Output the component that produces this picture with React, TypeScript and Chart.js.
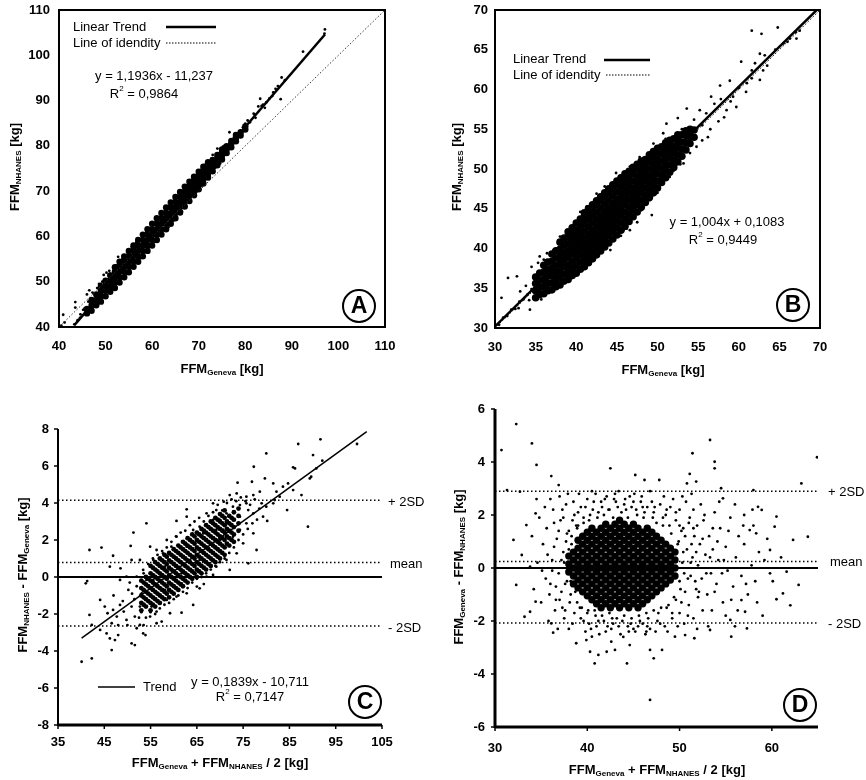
import React, { useEffect, useRef } from "react";
import { Chart, registerables } from "chart.js";

Chart.register(...registerables);

type Pt = [number, number];
type Col = [number, number[]];

// ---------------- Panel A : FFM NHANES vs FFM Geneva ----------------
const aXTicks = [40, 50, 60, 70, 80, 90, 100, 110];
const aYTicks = [40, 50, 60, 70, 80, 90, 100, 110];
const aTrendX = [43.3, 97.1];
const aTrendY = [40.4, 104.6];
const aIdentityX = [40, 110];
const aIdentityY = [40, 110];
const aCore: Col[] = [
  [46, [43.0, 44.0]], [47, [43.6, 44.8, 46.0]], [48, [44.8, 46.0, 47.2]], [49, [45.6, 46.8, 48.0, 49.0]],
  [50, [46.8, 48.0, 49.2, 50.2]], [51, [47.8, 49.0, 50.2, 51.4]], [52, [48.6, 49.8, 51.0, 52.2, 53.2]],
  [53, [49.8, 51.0, 52.2, 53.4, 54.4]], [54, [51.0, 52.2, 53.4, 54.6, 55.6]], [55, [52.1, 53.3, 54.5, 55.7, 56.8]],
  [56, [53.3, 54.5, 55.7, 56.9, 58.0]], [57, [54.4, 55.6, 56.8, 58.0, 59.2]], [58, [55.6, 56.8, 58.0, 59.2, 60.4]],
  [59, [56.8, 58.0, 59.2, 60.4, 61.6]], [60, [58.0, 59.2, 60.4, 61.6, 62.8]], [61, [59.2, 60.4, 61.6, 62.8, 64.0]],
  [62, [60.4, 61.6, 62.8, 64.0, 65.2]], [63, [61.6, 62.8, 64.0, 65.2, 66.4]], [64, [62.8, 64.0, 65.2, 66.4, 67.5]],
  [65, [64.0, 65.2, 66.4, 67.6, 68.7]], [66, [65.3, 66.5, 67.6, 68.8, 69.8]], [67, [66.6, 67.7, 68.8, 69.9, 71.0]],
  [68, [67.8, 68.9, 70.0, 71.1, 72.1]], [69, [69.1, 70.1, 71.2, 72.3, 73.2]], [70, [70.4, 71.4, 72.4, 73.4, 74.3]],
  [71, [71.7, 72.6, 73.6, 74.6, 75.4]], [72, [73.0, 73.9, 74.8, 75.7, 76.4]], [73, [74.4, 75.3, 76.1, 76.9]],
  [74, [75.7, 76.5, 77.3, 78.0]], [75, [77.0, 77.8, 78.6, 79.2]], [76, [78.4, 79.2, 79.9]],
  [77, [79.7, 80.5, 81.1]], [78, [81.0, 81.8, 82.4]], [79, [82.3, 83.0]], [80, [83.6, 84.3]],
];
const aScatter: Pt[] = [
  [40.5, 40.3], [40.9, 42.7], [41.2, 41.0], [43.3, 40.6], [43.5, 45.5], [43.5, 44.3], [44.0, 41.5],
  [44.5, 42.0], [44.6, 42.8], [45.2, 43.8], [45.5, 44.1], [46.0, 47.2], [46.3, 45.6], [46.5, 48.1],
  [46.8, 45.5], [47.2, 47.6], [47.5, 46.0], [48.0, 45.2], [48.2, 48.6], [48.6, 49.5], [48.9, 46.2],
  [49.0, 49.5], [49.3, 50.0], [49.6, 51.5], [49.8, 47.8], [50.2, 52.0], [50.5, 50.2], [50.8, 52.4],
  [51.0, 51.8], [51.5, 48.8], [51.8, 52.9], [52.2, 53.6], [52.7, 55.5], [53.1, 50.3], [53.6, 55.0],
  [54.0, 55.8], [54.5, 51.8], [54.8, 56.7], [55.2, 52.5], [55.6, 57.7], [56.0, 53.8], [56.6, 58.7],
  [57.0, 58.5], [57.5, 55.2], [58.0, 56.3], [58.3, 60.2], [58.8, 61.1], [59.2, 57.2], [59.8, 61.9],
  [60.0, 62.5], [60.6, 58.8], [61.2, 59.9], [61.5, 64.0], [62.0, 60.6], [62.8, 65.6], [63.2, 66.2],
  [63.5, 62.0], [64.2, 67.3], [64.6, 63.5], [65.0, 64.1], [66.0, 69.6], [66.4, 65.5], [66.8, 70.1],
  [67.2, 70.8], [67.8, 68.0], [68.0, 67.8], [68.5, 72.5], [69.3, 69.5], [69.8, 73.7], [70.0, 74.2],
  [70.6, 71.2], [71.0, 71.8], [71.5, 75.9], [72.3, 73.5], [72.8, 77.2], [73.0, 78.0], [73.6, 75.2],
  [74.0, 79.4], [74.6, 76.1], [75.2, 79.8], [75.5, 80.0], [76.0, 78.2], [76.6, 83.0], [77.0, 80.0],
  [77.6, 81.9], [78.0, 82.7], [78.5, 82.6], [79.0, 82.0], [79.5, 84.1], [80.0, 84.9], [80.5, 85.6],
  [81.0, 85.2], [81.8, 87.1], [82.0, 86.9], [82.2, 86.2], [82.8, 88.7], [83.2, 90.4], [83.5, 88.8],
  [83.8, 89.1], [84.2, 88.4], [84.5, 89.6], [85.2, 90.5], [85.8, 91.0], [86.0, 91.8], [86.5, 92.6],
  [87.0, 93.2], [87.6, 90.3], [87.8, 95.1], [88.5, 94.5], [92.4, 100.8], [97.1, 105.7], [97.0, 104.8],
];

// ---------------- Panel B : FFM NHANES vs FFM Geneva ----------------
const bXTicks = [30, 35, 40, 45, 50, 55, 60, 65, 70];
const bYTicks = [30, 35, 40, 45, 50, 55, 60, 65, 70];
const bTrendX = [30, 70];
const bTrendY = [30.2, 70.4];
const bIdentityX = [30, 70];
const bIdentityY = [30, 70];
const bCore: Col[] = [
  [35, [33.8, 34.7, 35.6, 36.4]], [35.5, [34.2, 35.1, 36.0, 36.9]],
  [36, [34.3, 35.2, 36.1, 37.0, 37.9]], [36.5, [34.7, 35.6, 36.5, 37.4, 38.3]],
  [37, [34.8, 35.7, 36.6, 37.5, 38.4, 39.3]], [37.5, [35.2, 36.1, 37.0, 37.9, 38.8, 39.7]],
  [38, [35.4, 36.3, 37.2, 38.1, 39.0, 39.9, 40.8]], [38.5, [35.9, 36.8, 37.7, 38.6, 39.5, 40.4, 41.3]],
  [39, [36.1, 37.0, 37.9, 38.8, 39.7, 40.6, 41.5, 42.1]], [39.5, [36.6, 37.5, 38.4, 39.3, 40.2, 41.1, 42.0, 42.6]],
  [40, [36.9, 37.8, 38.7, 39.6, 40.5, 41.4, 42.3, 43.2]], [40.5, [37.4, 38.3, 39.2, 40.1, 41.0, 41.9, 42.8, 43.7]],
  [41, [37.7, 38.6, 39.5, 40.4, 41.3, 42.2, 43.1, 44.0, 44.5]], [41.5, [38.2, 39.1, 40.0, 40.9, 41.8, 42.7, 43.6, 44.5, 45.0]],
  [42, [38.7, 39.6, 40.5, 41.4, 42.3, 43.2, 44.1, 45.0, 45.5]], [42.5, [39.2, 40.1, 41.0, 41.9, 42.8, 43.7, 44.6, 45.5, 46.0]],
  [43, [39.7, 40.6, 41.5, 42.4, 43.3, 44.2, 45.1, 46.0, 46.5]], [43.5, [40.2, 41.1, 42.0, 42.9, 43.8, 44.7, 45.6, 46.5, 47.0]],
  [44, [40.7, 41.6, 42.5, 43.4, 44.3, 45.2, 46.1, 47.0, 47.5]], [44.5, [41.2, 42.1, 43.0, 43.9, 44.8, 45.7, 46.6, 47.5, 48.0]],
  [45, [41.7, 42.6, 43.5, 44.4, 45.3, 46.2, 47.1, 48.0, 48.5]], [45.5, [42.3, 43.2, 44.1, 45.0, 45.9, 46.8, 47.7, 48.6, 48.9]],
  [46, [42.8, 43.7, 44.6, 45.5, 46.4, 47.3, 48.2, 49.1, 49.4]], [46.5, [43.4, 44.3, 45.2, 46.1, 47.0, 47.9, 48.8, 49.7]],
  [47, [44.0, 44.9, 45.8, 46.7, 47.6, 48.5, 49.4, 50.2]], [47.5, [44.6, 45.5, 46.4, 47.3, 48.2, 49.1, 50.0, 50.6]],
  [48, [45.2, 46.1, 47.0, 47.9, 48.8, 49.7, 50.6, 51.0]], [48.5, [45.8, 46.7, 47.6, 48.5, 49.4, 50.3, 51.2]],
  [49, [46.4, 47.3, 48.2, 49.1, 50.0, 50.9, 51.8]], [49.5, [47.0, 47.9, 48.8, 49.7, 50.6, 51.5, 52.2]],
  [50, [47.6, 48.5, 49.4, 50.3, 51.2, 52.1, 52.6]], [50.5, [48.3, 49.2, 50.1, 51.0, 51.9, 52.8]],
  [51, [48.9, 49.8, 50.7, 51.6, 52.5, 53.3]], [51.5, [49.6, 50.5, 51.4, 52.3, 53.2, 53.6]],
  [52, [50.2, 51.1, 52.0, 52.9, 53.8]], [52.5, [50.9, 51.8, 52.7, 53.6, 54.3]],
  [53, [51.6, 52.5, 53.4, 54.3]], [53.5, [52.4, 53.3, 54.2, 54.8]], [54, [53.2, 54.1, 55.0]], [54.5, [54.0, 54.9]],
];
const bScatter: Pt[] = [
  [30.5, 30.4], [30.8, 33.8], [31.0, 31.3], [31.5, 31.5], [31.6, 36.3], [32.0, 32.3], [32.5, 32.4],
  [32.7, 36.5], [32.9, 32.5], [33.0, 33.3], [33.1, 34.6], [33.5, 33.6], [33.8, 35.3], [34.0, 34.2],
  [34.2, 33.5], [34.3, 32.3], [34.5, 34.9], [34.5, 37.7], [35.1, 36.5], [35.3, 38.2], [35.5, 39.0],
  [35.7, 33.6], [36.0, 38.6], [36.4, 39.4], [36.8, 34.8], [37.2, 39.8], [37.6, 40.0], [38.0, 41.5],
  [38.5, 36.0], [38.8, 41.9], [39.0, 42.0], [39.5, 36.3], [40.0, 42.3], [40.2, 37.2], [40.5, 44.6],
  [41.0, 44.5], [41.3, 38.0], [41.3, 45.3], [42.0, 38.7], [42.5, 46.9], [42.8, 46.0], [43.3, 40.0],
  [43.3, 46.9], [43.5, 47.8], [44.0, 40.5], [44.2, 39.8], [44.9, 41.6], [44.9, 49.5], [45.2, 48.5],
  [45.5, 41.6], [45.8, 42.3], [46.2, 42.5], [46.6, 42.3], [46.6, 50.3], [47.0, 44.1], [47.3, 50.2],
  [47.5, 43.3], [47.8, 51.5], [48.0, 44.8], [48.2, 45.4], [48.8, 51.6], [49.1, 46.1], [49.3, 44.2],
  [49.5, 53.2], [49.9, 47.4], [50.0, 47.0], [50.3, 48.4], [50.7, 52.8], [50.7, 54.5], [51.0, 53.8],
  [51.1, 55.7], [51.5, 49.0], [51.5, 53.6], [52.0, 49.8], [52.3, 51.5], [52.5, 56.4], [52.8, 50.6],
  [53.0, 55.0], [53.2, 50.7], [53.6, 57.6], [53.6, 54.5], [54.0, 52.0], [54.0, 53.4], [54.5, 56.2],
  [54.8, 52.8], [55.2, 57.4], [55.5, 53.6], [55.5, 55.5], [56.0, 57.0], [56.2, 54.0], [56.5, 55.0],
  [56.6, 59.1], [57.0, 58.2], [57.5, 56.0], [57.7, 60.5], [57.8, 58.8], [58.2, 56.5], [58.5, 57.4],
  [58.9, 61.1], [59.0, 58.5], [59.3, 59.1], [59.7, 57.8], [60.0, 60.2], [60.3, 63.5], [60.9, 59.7],
  [61.0, 60.8], [61.6, 62.4], [61.6, 61.4], [61.6, 67.4], [62.0, 63.3], [62.6, 61.2], [62.6, 64.5],
  [62.8, 67.0], [63.0, 62.4], [63.2, 64.3], [63.5, 63.0], [64.5, 65.0], [64.8, 67.8], [65.5, 65.8],
  [66.0, 66.0], [66.3, 66.4], [67.0, 67.2], [67.1, 66.4], [67.5, 67.4],
];

// ---------------- Panel C : difference vs mean ----------------
const cXTicks = [35, 45, 55, 65, 75, 85, 95, 105];
const cYTicks = [-8, -6, -4, -2, 0, 2, 4, 6, 8];
const cTrendX = [40.1, 101.7];
const cTrendY = [-3.3, 7.86];
const cRangeX = [35, 105];
const cZero = 0;
const cPlus2SD = 4.15;
const cMean = 0.78;
const cMinus2SD = -2.65;
const cCore: Col[] = [
  [53, [-1.8, -1.4, -1.0, -0.6, -0.2]], [53.5, [-1.5, -1.1, -0.7, -0.3]],
  [54, [-1.6, -1.2, -0.8, -0.4, 0.0]], [54.5, [-1.3, -0.9, -0.5, -0.1]],
  [55, [-1.8, -1.4, -1.0, -0.6, -0.2, 0.2, 0.6]], [55.5, [-1.5, -1.1, -0.7, -0.3, 0.1, 0.5]],
  [56, [-1.6, -1.2, -0.8, -0.4, 0.0, 0.4, 0.8]], [56.5, [-1.3, -0.9, -0.5, -0.1, 0.3, 0.7]],
  [57, [-1.4, -1.0, -0.6, -0.2, 0.2, 0.6, 1.0]], [57.5, [-1.1, -0.7, -0.3, 0.1, 0.5, 0.9]],
  [58, [-1.2, -0.8, -0.4, 0.0, 0.4, 0.8, 1.2]], [58.5, [-0.9, -0.5, -0.1, 0.3, 0.7, 1.1]],
  [59, [-1.1, -0.7, -0.3, 0.1, 0.5, 0.9, 1.3]], [59.5, [-0.8, -0.4, 0.0, 0.4, 0.8, 1.2]],
  [60, [-0.9, -0.5, -0.1, 0.3, 0.7, 1.1, 1.5]], [60.5, [-0.6, -0.2, 0.2, 0.6, 1.0, 1.4]],
  [61, [-0.7, -0.3, 0.1, 0.5, 0.9, 1.3, 1.7]], [61.5, [-0.4, 0.0, 0.4, 0.8, 1.2, 1.6]],
  [62, [-0.5, -0.1, 0.3, 0.7, 1.1, 1.5, 1.9]], [62.5, [-0.2, 0.2, 0.6, 1.0, 1.4, 1.8]],
  [63, [-0.3, 0.1, 0.5, 0.9, 1.3, 1.7, 2.1]], [63.5, [0.0, 0.4, 0.8, 1.2, 1.6, 2.0]],
  [64, [-0.1, 0.3, 0.7, 1.1, 1.5, 1.9, 2.3]], [64.5, [0.2, 0.6, 1.0, 1.4, 1.8, 2.2]],
  [65, [0.0, 0.4, 0.8, 1.2, 1.6, 2.0, 2.4]], [65.5, [0.3, 0.7, 1.1, 1.5, 1.9, 2.3]],
  [66, [0.2, 0.6, 1.0, 1.4, 1.8, 2.2, 2.6]], [66.5, [0.5, 0.9, 1.3, 1.7, 2.1, 2.5]],
  [67, [0.4, 0.8, 1.2, 1.6, 2.0, 2.4, 2.8]], [67.5, [0.7, 1.1, 1.5, 1.9, 2.3, 2.7]],
  [68, [0.6, 1.0, 1.4, 1.8, 2.2, 2.6, 3.0]], [68.5, [0.9, 1.3, 1.7, 2.1, 2.5, 2.9]],
  [69, [0.8, 1.2, 1.6, 2.0, 2.4, 2.8, 3.2]], [69.5, [1.1, 1.5, 1.9, 2.3, 2.7, 3.1]],
  [70, [1.0, 1.4, 1.8, 2.2, 2.6, 3.0, 3.4]], [70.5, [1.3, 1.7, 2.1, 2.5, 2.9, 3.3]],
  [71, [1.2, 1.6, 2.0, 2.4, 2.8, 3.2, 3.6]], [71.5, [1.8, 2.2, 2.6, 3.0]],
  [72, [1.7, 2.1, 2.5, 2.9, 3.3]], [72.5, [2.0, 2.4, 2.8, 3.2]],
  [73, [1.9, 2.3, 2.7, 3.1, 3.5]], [74, [2.5, 2.9, 3.3, 3.7]],
];
const cScatter: Pt[] = [
  [99.6, 7.19], [91.7, 7.44], [86.9, 7.19], [80.0, 6.68], [90.1, 6.59], [77.3, 5.96], [92.1, 6.29],
  [90.8, 5.87], [73.8, 5.10], [76.9, 5.15], [79.7, 5.33], [81.5, 5.06], [85.8, 5.93], [86.2, 5.87],
  [84.7, 5.06], [87.6, 4.43], [85.8, 4.70], [84.5, 3.62], [89.0, 2.72], [83.6, 4.88], [82.2, 4.61],
  [89.4, 5.33], [89.7, 5.42], [62.8, 3.66], [60.6, 3.03], [54.1, 2.90], [51.3, 2.40], [50.7, 1.68],
  [41.8, 1.46], [44.4, 1.59], [46.9, 1.15], [46.2, 0.56], [50.9, 0.92], [48.5, 0.47], [41.0, -0.34],
  [41.3, -0.22], [41.8, -2.05], [42.3, -2.59], [40.1, -4.58], [42.3, -4.40], [46.6, -3.95],
  [46.2, -3.32], [47.3, -3.41], [48.0, -3.14], [45.5, -3.05], [50.9, -3.59], [51.6, -3.68],
  [53.4, -3.05], [52.7, -2.59], [53.9, -3.14], [44.1, -1.24], [45.1, -1.60], [45.7, -1.96],
  [46.9, -1.78], [47.7, -2.14], [48.4, -1.51], [49.2, -1.87], [49.8, -2.32], [46.6, -2.50],
  [50.9, -1.60], [51.6, -2.14], [52.0, -2.77], [56.3, -1.87], [57.4, -2.41], [59.2, -1.96],
  [61.7, -1.93], [64.2, -1.51], [65.6, -0.61], [66.5, -0.38], [68.5, 0.11], [72.1, 0.38],
  [76.1, 0.74], [77.9, 1.46], [77.2, 2.36], [75.7, 2.90], [74.3, 3.26], [72.8, 3.80], [72.1, 4.43],
  [73.6, 4.52], [75.7, 4.34], [77.2, 4.43], [78.6, 4.61], [79.0, 3.98], [79.3, 3.26], [76.1, 3.62],
  [70.7, 2.54], [69.2, 3.62], [68.5, 3.08], [67.1, 3.44], [65.6, 2.72], [62.8, 3.26], [64.2, 2.54],
  [60.6, 2.18], [58.5, 2.00], [56.3, 1.46], [55.6, 0.92], [57.7, 1.28], [59.5, 1.64], [54.9, 1.64],
  [52.7, 0.92], [53.4, 0.38], [52.0, 0.02], [54.1, -0.16], [49.8, 0.02], [48.4, -0.16], [50.2, -0.70],
  [53.1, -0.88], [54.1, -1.24], [55.2, -1.60], [52.7, -1.60], [54.9, -2.14], [56.3, -2.50],
  [58.5, -1.24], [60.6, -1.06], [62.8, -0.88], [65.0, -0.52], [67.1, 0.02], [69.2, 0.56],
  [71.4, 0.92], [73.6, 1.28], [75.0, 1.82], [72.8, 2.18], [74.3, 2.54], [71.4, 2.90], [70.0, 2.00],
  [75.7, 3.98], [77.2, 3.44], [80.0, 3.80], [81.5, 3.98], [82.9, 4.34], [80.2, 3.03], [81.8, 4.16],
  [63.8, 0.38], [65.6, 0.92], [61.7, 0.20], [59.9, 0.74], [58.1, 0.56], [57.4, 0.02], [56.3, -0.52],
  [58.1, -0.70], [59.9, -0.52], [61.7, -0.34], [56.3, 0.38], [55.6, -0.16], [54.5, -0.52],
  [60.6, 1.37], [62.8, 1.64], [65.0, 2.00], [66.4, 2.36], [67.8, 1.82], [66.4, 1.28], [69.2, 2.54],
  [71.4, 3.44], [72.8, 3.08], [70.0, 3.08], [68.5, 3.98], [70.8, 4.07], [74.3, 3.89], [44.1, -2.86],
  [53.0, -1.9], [53.5, 0.2], [54.0, -2.2], [54.5, 0.7], [55.0, -1.9], [55.5, 1.0], [56.0, -2.0],
  [56.5, 1.2], [57.0, -1.7], [57.5, 1.4], [58.0, -1.5], [58.5, 1.6], [59.0, -1.4], [59.5, 1.9],
  [60.0, -1.2], [60.5, 2.2], [61.0, -1.0], [61.5, 2.4], [62.0, -0.8], [62.5, 2.5], [63.0, -0.6],
  [63.5, 2.8], [64.0, -0.3], [64.5, 3.0], [65.0, -0.1], [65.5, 3.2], [66.0, 0.0], [66.5, 3.0],
  [67.0, 0.2], [67.5, 3.3], [68.0, 0.4], [68.5, 3.5], [69.0, 0.6], [69.5, 3.9], [70.0, 0.8],
  [70.5, 3.6], [71.0, 1.0], [71.5, 4.0], [72.0, 1.3], [72.5, 4.2], [73.0, 1.6], [73.5, 4.1],
  [74.0, 2.0], [74.5, 4.3], [75.0, 2.3], [75.5, 4.1], [76.0, 2.6], [76.5, 3.9], [77.0, 2.9],
  [77.5, 4.2], [78.0, 3.1], [78.5, 3.7], [47.0, -1.0], [48.0, -2.6], [49.0, -1.3], [50.0, -2.6],
  [51.0, -0.9], [51.5, -1.2], [52.5, -2.2], [53.5, -2.6], [52.0, -0.5], [50.5, -0.3],
];

// ---------------- Panel D : difference vs mean ----------------
const dXTicks = [30, 40, 50, 60];
const dYTicks = [-6, -4, -2, 0, 2, 4, 6];
const dRangeX = [30, 65];
const dZero = 0;
const dPlus2SD = 2.9;
const dMean = 0.25;
const dMinus2SD = -2.08;
const dCore: Col[] = [
  [38, [-0.15, 0.15, 0.45]],
  [38.5, [-0.6, -0.3, 0.0, 0.3, 0.6]],
  [39, [-0.75, -0.45, -0.15, 0.15, 0.45, 0.75, 1.05]],
  [39.5, [-0.9, -0.6, -0.3, 0.0, 0.3, 0.6, 0.9, 1.2]],
  [40, [-1.05, -0.75, -0.45, -0.15, 0.15, 0.45, 0.75, 1.05, 1.35]],
  [40.5, [-1.2, -0.9, -0.6, -0.3, 0.0, 0.3, 0.6, 0.9, 1.2, 1.5]],
  [41, [-1.35, -1.05, -0.75, -0.45, -0.15, 0.15, 0.45, 0.75, 1.05, 1.35]],
  [41.5, [-1.5, -1.2, -0.9, -0.6, -0.3, 0.0, 0.3, 0.6, 0.9, 1.2, 1.5]],
  [42, [-1.35, -1.05, -0.75, -0.45, -0.15, 0.15, 0.45, 0.75, 1.05, 1.35, 1.65]],
  [42.5, [-1.5, -1.2, -0.9, -0.6, -0.3, 0.0, 0.3, 0.6, 0.9, 1.2, 1.5]],
  [43, [-1.35, -1.05, -0.75, -0.45, -0.15, 0.15, 0.45, 0.75, 1.05, 1.35, 1.65]],
  [43.5, [-1.5, -1.2, -0.9, -0.6, -0.3, 0.0, 0.3, 0.6, 0.9, 1.2, 1.5, 1.8]],
  [44, [-1.35, -1.05, -0.75, -0.45, -0.15, 0.15, 0.45, 0.75, 1.05, 1.35, 1.65]],
  [44.5, [-1.5, -1.2, -0.9, -0.6, -0.3, 0.0, 0.3, 0.6, 0.9, 1.2, 1.5]],
  [45, [-1.35, -1.05, -0.75, -0.45, -0.15, 0.15, 0.45, 0.75, 1.05, 1.35, 1.65]],
  [45.5, [-1.5, -1.2, -0.9, -0.6, -0.3, 0.0, 0.3, 0.6, 0.9, 1.2, 1.5]],
  [46, [-1.35, -1.05, -0.75, -0.45, -0.15, 0.15, 0.45, 0.75, 1.05, 1.35]],
  [46.5, [-1.2, -0.9, -0.6, -0.3, 0.0, 0.3, 0.6, 0.9, 1.2, 1.5]],
  [47, [-1.05, -0.75, -0.45, -0.15, 0.15, 0.45, 0.75, 1.05, 1.35]],
  [47.5, [-0.9, -0.6, -0.3, 0.0, 0.3, 0.6, 0.9, 1.2]],
  [48, [-0.75, -0.45, -0.15, 0.15, 0.45, 0.75, 1.05]],
  [48.5, [-0.6, -0.3, 0.0, 0.3, 0.6, 0.9]],
  [49, [-0.45, -0.15, 0.15, 0.45, 0.75]],
  [49.5, [-0.3, 0.0, 0.3, 0.6]],
];
const dCloud: Pt[] = [
  [34.8, 1.9], [35.2, 0.9], [35.5, -0.4], [35.6, 1.5], [35.9, -1.0], [36.2, 0.3], [36.3, 2.2],
  [36.5, -1.6], [36.7, 1.1], [36.9, -0.2], [37.1, 1.8], [37.2, -0.9], [37.4, 0.6], [37.5, -1.9],
  [37.7, 2.4], [37.8, -0.5], [38.0, 1.4], [38.1, -1.3], [38.3, 0.9], [38.4, -2.1], [38.6, 2.0],
  [38.7, -0.9], [38.8, 1.6], [35.0, -1.3], [36.0, 2.6], [37.0, 2.7], [37.9, 2.8], [36.8, -2.3],
  [35.8, -2.0], [34.6, 0.2], [35.4, 2.3], [34.2, -0.8], [34.0, 1.2],
  [39.0, 1.6], [39.3, 2.3], [39.6, 1.9], [40.0, 2.6], [40.2, 1.8], [40.6, 2.2], [40.9, 2.8],
  [41.1, 1.9], [41.5, 2.5], [41.8, 2.0], [42.1, 2.7], [42.4, 2.2], [42.8, 1.9], [43.1, 2.5],
  [43.4, 2.9], [43.7, 2.1], [44.1, 2.6], [44.4, 1.9], [44.8, 2.3], [45.1, 2.8], [45.4, 2.0],
  [45.8, 2.5], [46.1, 1.9], [46.5, 2.3], [46.8, 2.9], [47.2, 2.1], [47.5, 1.7], [47.9, 2.4],
  [48.2, 1.9], [48.6, 2.2], [48.9, 1.6], [49.3, 2.6], [49.6, 1.8], [50.0, 2.2], [50.4, 1.5],
  [50.7, 2.5], [51.1, 1.9], [51.5, 2.2], [51.9, 1.6], [52.3, 2.4],
  [39.2, -1.5], [39.6, -2.0], [40.0, -1.7], [40.4, -2.3], [40.8, -1.6], [41.2, -2.0], [41.6, -1.8],
  [42.0, -2.4], [42.4, -1.7], [42.8, -2.1], [43.2, -1.9], [43.6, -2.5], [44.0, -1.8], [44.4, -2.2],
  [44.8, -1.9], [45.2, -2.4], [45.6, -1.8], [46.0, -2.1], [46.4, -1.7], [46.8, -2.3], [47.2, -1.6],
  [47.6, -2.0], [48.0, -1.5], [48.4, -2.2], [48.8, -1.4], [49.2, -1.9], [49.6, -1.2], [50.0, -1.7],
  [50.5, -2.1], [51.0, -1.4], [51.5, -1.9], [52.0, -1.1], [52.5, -1.6],
  [49.8, 0.9], [50.0, -0.5], [50.2, 1.4], [50.3, 0.2], [50.6, -0.9], [50.8, 0.7], [51.0, 1.7],
  [51.2, -0.3], [51.4, 0.4], [51.6, 1.2], [51.8, -0.8], [52.0, 0.1], [52.2, 0.9], [52.4, -0.4],
  [52.6, 1.8], [52.8, 0.5], [53.0, -1.0], [53.2, 1.2], [53.4, -0.2], [53.6, 0.7], [53.8, 2.1],
  [54.0, -0.6], [54.2, 0.3], [54.4, 1.5], [54.7, -1.3], [55.0, 0.8], [55.2, -0.1], [55.5, 1.9],
  [55.8, -0.7], [56.1, 0.4], [56.4, 1.2], [56.7, -0.3], [57.0, 0.9], [57.4, -1.0], [57.8, 0.1],
  [58.2, -0.5], [58.6, 0.6], [56.0, 2.4], [55.0, -1.8], [53.5, -1.6], [57.0, 2.0], [58.0, 1.6],
  [37.5, 0.2], [37.6, -0.6], [37.7, 1.0], [38.2, -1.0], [38.3, 1.2], [38.9, -1.3], [38.9, 1.5],
  [39.4, -1.5], [39.6, 1.7], [40.1, -1.6], [40.3, 2.0], [40.9, -1.8], [41.2, 2.1], [41.8, -2.0],
  [42.3, 2.2], [42.7, -1.9], [43.3, 2.3], [43.8, -2.0], [44.2, 2.2], [44.7, -2.1], [45.3, 2.2],
  [45.7, -2.0], [46.2, 2.1], [46.6, -1.9], [47.1, 1.9], [47.7, -1.7], [48.2, 1.6], [48.6, -1.5],
  [49.1, 1.3], [49.4, -1.1], [49.9, 1.0], [50.1, -0.8], [50.4, 0.6], [50.5, -0.2], [51.3, 0.9],
  [51.7, -0.5], [34.5, 2.6], [35.1, -0.1], [35.7, 0.5], [36.0, -0.6], [36.4, 1.7], [36.6, -1.2],
  [37.3, 2.2], [37.3, -1.5], [38.0, -2.3], [38.5, 2.5], [39.1, 2.8], [39.8, -2.4], [40.5, 2.9],
  [41.3, -2.5], [41.9, 2.6], [42.6, -2.3], [43.0, 2.8], [43.9, -2.6], [44.6, 2.7], [45.0, -2.3],
  [45.9, 2.7], [46.3, -2.5], [47.0, 2.5], [47.4, -2.4], [48.3, 2.7], [48.7, -2.4], [49.0, 2.3],
  [49.8, -2.2], [50.3, 2.7], [50.9, -1.8], [51.3, 2.8], [51.9, -2.3], [52.7, 2.0], [53.1, -2.2],
  [53.6, 1.5], [54.3, 2.5], [54.6, -0.2], [55.3, 1.4], [55.6, -1.2], [56.3, -1.6], [56.9, 1.6],
  [57.2, -0.6], [57.9, 2.2], [58.4, -1.3], [59.2, 0.3], [59.5, 1.1], [60.1, -0.5], [61.0, 0.4],
  [59.0, -1.8], [56.0, -2.2],
  [36.2, -0.1], [36.4, 0.8], [36.6, -0.7], [36.9, 1.4], [37.0, -1.2], [37.2, 0.3], [37.4, 1.9],
  [37.6, -1.6], [37.8, 1.3], [38.0, 0.7], [38.2, -0.5], [38.4, 1.8], [38.6, -1.7], [39.0, 2.1],
  [39.3, -1.9], [39.8, 2.3], [40.2, -2.1], [40.7, 2.5], [41.0, -2.2], [41.6, 2.3], [42.2, -2.2],
  [42.9, 2.6], [43.4, -2.2], [44.0, 2.4], [44.5, -2.4], [45.0, 2.5], [45.5, -2.2], [46.0, 2.3],
  [46.5, -2.2], [47.3, 2.3], [47.9, -2.1], [48.5, 2.0], [49.2, -1.7], [49.6, 2.1], [50.0, 1.6],
  [50.2, -1.3], [50.6, 1.2], [50.9, -0.4], [51.2, 0.2], [51.5, 1.5], [51.8, 0.6], [52.1, -0.9],
  [52.5, 1.1], [52.9, -0.2], [53.3, 0.4], [53.8, -0.9], [54.1, 1.0], [54.8, 0.3],
];
const dOutliers: Pt[] = [
  [32.3, 5.43], [30.7, 4.45], [34.0, 4.70], [34.5, 3.89], [32.0, 1.06], [32.3, -0.64], [31.3, 2.94],
  [36.1, 3.47], [33.4, 1.62], [34.4, 2.06], [32.9, 0.49], [33.8, 0.05], [34.4, -1.27], [33.8, -1.65],
  [33.2, -1.84], [36.3, -2.44], [36.1, -2.09], [36.9, 3.13], [42.5, 3.76], [45.2, 3.51], [46.2, 3.32],
  [47.8, 3.32], [53.3, 4.83], [53.8, 4.01], [53.8, 3.76], [51.4, 4.33], [51.1, 3.55], [50.8, 3.19],
  [51.8, 3.26], [54.5, 3.01], [54.7, 2.63], [58.0, 2.94], [63.2, 3.19], [64.9, 4.18], [63.9, 1.18],
  [62.3, 1.06], [59.8, 0.68], [61.6, -0.14], [61.2, -0.96], [60.5, -1.18], [62.0, -1.41],
  [62.9, -0.64], [59.8, -0.20], [58.5, 2.31], [58.9, 2.19], [60.5, 1.94], [60.3, 1.56], [58.3, 1.31],
  [57.6, 1.43], [57.1, -1.65], [57.3, -2.28], [55.6, -2.59], [51.6, -2.65], [46.8, -3.09],
  [47.2, -3.41], [48.1, -3.09], [44.3, -3.60], [43.0, -3.09], [42.1, -3.16], [41.2, -3.28],
  [40.3, -3.16], [38.8, -2.84], [40.8, -3.60], [46.8, -4.98], [40.5, -2.59], [39.9, -2.72],
  [42.6, -2.78], [44.6, -2.91], [46.4, -2.40], [49.5, -2.59], [50.6, -2.53], [53.3, -2.34],
  [55.5, -1.96], [56.7, -1.21], [32.7, 2.88],
];

// ---------------- rendering helpers ----------------
const FONT = '"Liberation Sans", Arial, Helvetica, sans-serif';
type Seg = { t: string; s?: "sub" | "sup" };

const toPts = (p: Pt[]) => p.map(([x, y]) => ({ x, y }));
const toColPts = (c: Col[]) => c.flatMap(([x, ys]) => ys.map((y) => ({ x, y })));
const dots = (data: any[], r: number) => ({
  data,
  showLine: false,
  pointRadius: r,
  pointHoverRadius: r,
  pointBackgroundColor: "#000",
  pointBorderWidth: 0,
  backgroundColor: "#000",
  borderColor: "#000",
});
const lineDs = (xs: number[], ys: number[], width: number, dash: number[] = [], color = "#000") => ({
  data: xs.map((x, i) => ({ x, y: ys[i] })),
  showLine: true,
  borderColor: color,
  backgroundColor: color,
  borderWidth: width,
  borderDash: dash,
  pointRadius: 0,
  pointHoverRadius: 0,
  fill: false,
  tension: 0,
});

function rich(ctx: CanvasRenderingContext2D, segs: Seg[], x: number, y: number, size: number, bold: boolean, align: "left" | "center", rotate = false) {
  ctx.save();
  ctx.translate(x, y);
  if (rotate) ctx.rotate(-Math.PI / 2);
  const w = bold ? "bold " : "";
  const small = Math.round(size * 0.62);
  const widths = segs.map((sg) => {
    ctx.font = `${w}${sg.s ? small : size}px ${FONT}`;
    return ctx.measureText(sg.t).width;
  });
  const total = widths.reduce((a, b) => a + b, 0);
  let cx = align === "center" ? -total / 2 : 0;
  ctx.textBaseline = "middle";
  ctx.textAlign = "left";
  ctx.fillStyle = "#000";
  segs.forEach((sg, i) => {
    ctx.font = `${w}${sg.s ? small : size}px ${FONT}`;
    const dy = sg.s === "sub" ? size * 0.32 : sg.s === "sup" ? -size * 0.38 : 0;
    ctx.fillText(sg.t, cx, dy);
    cx += widths[i];
  });
  ctx.restore();
}

function seg(ctx: CanvasRenderingContext2D, x1: number, y1: number, x2: number, y2: number, w: number, dash: number[] = []) {
  ctx.save();
  ctx.strokeStyle = "#000";
  ctx.lineWidth = w;
  ctx.setLineDash(dash);
  ctx.beginPath();
  ctx.moveTo(x1, y1);
  ctx.lineTo(x2, y2);
  ctx.stroke();
  ctx.restore();
}

function badge(ctx: CanvasRenderingContext2D, letter: string, x: number, y: number) {
  ctx.save();
  ctx.fillStyle = "#fff";
  ctx.strokeStyle = "#000";
  ctx.lineWidth = 2;
  ctx.beginPath();
  ctx.arc(x, y, 16, 0, Math.PI * 2);
  ctx.fill();
  ctx.stroke();
  ctx.fillStyle = "#000";
  ctx.font = `bold 23px ${FONT}`;
  ctx.textAlign = "center";
  ctx.textBaseline = "middle";
  ctx.fillText(letter, x, y + 1);
  ctx.restore();
}

function label(ctx: CanvasRenderingContext2D, t: string, x: number, y: number, size = 13, align: CanvasTextAlign = "left") {
  ctx.save();
  ctx.fillStyle = "#000";
  ctx.font = `${size}px ${FONT}`;
  ctx.textAlign = align;
  ctx.textBaseline = "middle";
  ctx.fillText(t, x, y);
  ctx.restore();
}

function ticksMarks(chart: any, xTicks: number[], yTicks: number[]) {
  const a = chart.chartArea;
  const sx = chart.scales.x;
  const sy = chart.scales.y;
  yTicks.forEach((v) => {
    const p = sy.getPixelForValue(v);
    seg(chart.ctx, a.left - 4, p, a.left, p, 1.5);
  });
  xTicks.forEach((v) => {
    const p = sx.getPixelForValue(v);
    seg(chart.ctx, p, a.bottom, p, a.bottom + 4, 1.5);
  });
}

interface Spec {
  left: number; top: number; width: number; height: number;
  yW: number; xH: number; padTop: number; padRight: number;
  xMin: number; xMax: number; yMin: number; yMax: number;
  xTicks: number[]; yTicks: number[];
  xPad: number; yPad: number;
  datasets: any[];
  decorate: (chart: any) => void;
}

const tickFont = { family: FONT, size: 13, weight: "bold" as const };

function Panel({ spec }: { spec: Spec }) {
  const ref = useRef<HTMLCanvasElement>(null);
  useEffect(() => {
    const chart = new Chart(ref.current as HTMLCanvasElement, {
      type: "scatter",
      data: { datasets: spec.datasets },
      options: {
        animation: false,
        responsive: false,
        maintainAspectRatio: false,
        events: [],
        layout: { padding: { left: 0, top: spec.padTop, right: spec.padRight, bottom: 0 } },
        plugins: { legend: { display: false }, tooltip: { enabled: false }, colors: { enabled: false } } as any,
        scales: {
          x: {
            type: "linear",
            min: spec.xMin,
            max: spec.xMax,
            afterBuildTicks: (s: any) => { s.ticks = spec.xTicks.map((v) => ({ value: v })); },
            afterFit: (s: any) => { s.height = spec.xH; s.paddingLeft = 0; s.paddingRight = 0; s.paddingTop = 0; s.paddingBottom = 0; },
            grid: { display: false, drawTicks: false },
            border: { display: false },
            ticks: { font: tickFont, color: "#000", padding: spec.xPad, maxRotation: 0, autoSkip: false },
          },
          y: {
            type: "linear",
            min: spec.yMin,
            max: spec.yMax,
            afterBuildTicks: (s: any) => { s.ticks = spec.yTicks.map((v) => ({ value: v })); },
            afterFit: (s: any) => { s.width = spec.yW; s.paddingLeft = 0; s.paddingRight = 0; s.paddingTop = 0; s.paddingBottom = 0; },
            grid: { display: false, drawTicks: false },
            border: { display: false },
            ticks: { font: tickFont, color: "#000", padding: spec.yPad, autoSkip: false },
          },
        },
      } as any,
      plugins: [{ id: "deco", afterDraw: (c: any) => spec.decorate(c) }],
    });
    return () => chart.destroy();
  }, [spec]);
  return (
    <canvas
      ref={ref}
      width={spec.width}
      height={spec.height}
      style={{ position: "absolute", left: spec.left, top: spec.top, width: spec.width, height: spec.height }}
    />
  );
}

const titleGeneva: Seg[] = [{ t: "FFM" }, { t: "Geneva", s: "sub" }, { t: " [kg]" }];
const titleNhanes: Seg[] = [{ t: "FFM" }, { t: "NHANES", s: "sub" }, { t: " [kg]" }];
const titleMean: Seg[] = [{ t: "FFM" }, { t: "Geneva", s: "sub" }, { t: " + FFM" }, { t: "NHANES", s: "sub" }, { t: " / 2 [kg]" }];
const titleDiffC: Seg[] = [{ t: "FFM" }, { t: "NHANES", s: "sub" }, { t: " - FFM" }, { t: "Geneva", s: "sub" }, { t: " [kg]" }];
const titleDiffD: Seg[] = [{ t: "FFM" }, { t: "Geneva", s: "sub" }, { t: " - FFM" }, { t: "NHANES", s: "sub" }, { t: " [kg]" }];

const specA: Spec = {
  left: 0, top: 0, width: 430, height: 390,
  yW: 59, xH: 63, padTop: 10, padRight: 45,
  xMin: 40, xMax: 110, yMin: 40, yMax: 110, xTicks: aXTicks, yTicks: aYTicks, xPad: 12, yPad: 9,
  datasets: [
    lineDs(aTrendX, aTrendY, 2.5),
    lineDs(aIdentityX, aIdentityY, 1, [1.5, 2], "#333"),
    dots(toColPts(aCore), 3.2),
    dots(toPts(aScatter), 1.4),
  ],
  decorate: (c) => {
    const ctx = c.ctx; const a = c.chartArea;
    ctx.save(); ctx.strokeStyle = "#000"; ctx.lineWidth = 2;
    ctx.strokeRect(a.left, a.top, a.right - a.left, a.bottom - a.top); ctx.restore();
    label(ctx, "Linear Trend", 73, 27);
    seg(ctx, 166, 27, 216, 27, 2.5);
    label(ctx, "Line of idendity", 73, 43);
    seg(ctx, 166, 43, 216, 43, 1.2, [1.5, 1.5]);
    label(ctx, "y = 1,1936x - 11,237", 154, 76, 13, "center");
    rich(ctx, [{ t: "R" }, { t: "2", s: "sup" }, { t: " = 0,9864" }], 144, 94, 13, false, "center");
    badge(ctx, "A", 359, 306);
    rich(ctx, titleGeneva, 222, 369, 13, true, "center");
    rich(ctx, titleNhanes, 15, 167, 13, true, "center", true);
  },
};

const specB: Spec = {
  left: 430, top: 0, width: 436, height: 390,
  yW: 65, xH: 62, padTop: 10, padRight: 46,
  xMin: 30, xMax: 70, yMin: 30, yMax: 70, xTicks: bXTicks, yTicks: bYTicks, xPad: 12, yPad: 7,
  datasets: [
    lineDs(bTrendX, bTrendY, 2.5),
    lineDs(bIdentityX, bIdentityY, 1, [1.5, 2]),
    dots(toColPts(bCore), 3.8),
    dots(toPts(bScatter), 1.4),
  ],
  decorate: (c) => {
    const ctx = c.ctx; const a = c.chartArea;
    ctx.save(); ctx.strokeStyle = "#000"; ctx.lineWidth = 2;
    ctx.strokeRect(a.left, a.top, a.right - a.left, a.bottom - a.top); ctx.restore();
    label(ctx, "Linear Trend", 83, 59);
    seg(ctx, 174, 60, 220, 60, 2.5);
    label(ctx, "Line of idendity", 83, 75);
    seg(ctx, 176, 75, 220, 75, 1.2, [1.5, 1.5]);
    label(ctx, "y = 1,004x + 0,1083", 297, 222, 13, "center");
    rich(ctx, [{ t: "R" }, { t: "2", s: "sup" }, { t: " = 0,9449" }], 293, 240, 13, false, "center");
    badge(ctx, "B", 363, 305);
    rich(ctx, titleGeneva, 233, 370, 13, true, "center");
    rich(ctx, titleNhanes, 27, 167, 13, true, "center", true);
  },
};

const specC: Spec = {
  left: 0, top: 400, width: 430, height: 380,
  yW: 58, xH: 55, padTop: 29, padRight: 48,
  xMin: 35, xMax: 105, yMin: -8, yMax: 8, xTicks: cXTicks, yTicks: cYTicks, xPad: 10, yPad: 9,
  datasets: [
    lineDs(cTrendX, cTrendY, 1.5),
    lineDs(cRangeX, [cZero, cZero], 2),
    lineDs(cRangeX, [cPlus2SD, cPlus2SD], 1.5, [1.5, 2.5]),
    lineDs(cRangeX, [cMean, cMean], 1.5, [1.5, 2.5]),
    lineDs(cRangeX, [cMinus2SD, cMinus2SD], 1.5, [1.5, 2.5]),
    dots(toColPts(cCore), 2.4),
    dots(toPts(cScatter), 1.4),
  ],
  decorate: (c) => {
    const ctx = c.ctx; const a = c.chartArea; const sy = c.scales.y;
    seg(ctx, a.left, a.top, a.left, a.bottom + 1, 2);
    seg(ctx, a.left, a.bottom, a.right, a.bottom, 3);
    ticksMarks(c, cXTicks, cYTicks);
    label(ctx, "+ 2SD", 388, sy.getPixelForValue(cPlus2SD) + 2);
    label(ctx, "mean", 390, sy.getPixelForValue(cMean) + 2);
    label(ctx, "- 2SD", 388, sy.getPixelForValue(cMinus2SD) + 2);
    seg(ctx, 98, 287, 135, 287, 1.5);
    label(ctx, "Trend", 143, 287);
    label(ctx, "y = 0,1839x - 10,711", 250, 282, 13, "center");
    rich(ctx, [{ t: "R" }, { t: "2", s: "sup" }, { t: " = 0,7147" }], 250, 297, 13, false, "center");
    badge(ctx, "C", 365, 302);
    rich(ctx, titleMean, 220, 363, 13, true, "center");
    rich(ctx, titleDiffC, 23, 175, 13, true, "center", true);
  },
};

const specD: Spec = {
  left: 430, top: 380, width: 436, height: 400,
  yW: 65, xH: 53, padTop: 29, padRight: 48,
  xMin: 30, xMax: 65, yMin: -6, yMax: 6, xTicks: dXTicks, yTicks: dYTicks, xPad: 14, yPad: 10,
  datasets: [
    lineDs(dRangeX, [dZero, dZero], 2),
    lineDs(dRangeX, [dPlus2SD, dPlus2SD], 1.5, [1.5, 2.5]),
    lineDs(dRangeX, [dMean, dMean], 1.5, [1.5, 2.5]),
    lineDs(dRangeX, [dMinus2SD, dMinus2SD], 1.5, [1.5, 2.5]),
    dots(toColPts(dCore), 3.7),
    dots(toPts(dCloud), 1.4),
    dots(toPts(dOutliers), 1.4),
  ],
  decorate: (c) => {
    const ctx = c.ctx; const a = c.chartArea; const sy = c.scales.y;
    seg(ctx, a.left, a.top, a.left, a.bottom + 1, 3);
    seg(ctx, a.left, a.bottom, a.right, a.bottom, 3);
    ticksMarks(c, dXTicks, dYTicks);
    label(ctx, "+ 2SD", 398, sy.getPixelForValue(dPlus2SD) + 1);
    label(ctx, "mean", 400, sy.getPixelForValue(dMean) + 1);
    label(ctx, "- 2SD", 398, sy.getPixelForValue(dMinus2SD) + 1);
    badge(ctx, "D", 370, 325);
    rich(ctx, titleMean, 227, 390, 13, true, "center");
    rich(ctx, titleDiffD, 29, 187, 13, true, "center", true);
  },
};

export default function App() {
  return (
    <div style={{ position: "absolute", left: 0, top: 0, width: 866, height: 780, background: "#fff", overflow: "hidden" }}>
      <Panel spec={specA} />
      <Panel spec={specB} />
      <Panel spec={specC} />
      <Panel spec={specD} />
    </div>
  );
}
